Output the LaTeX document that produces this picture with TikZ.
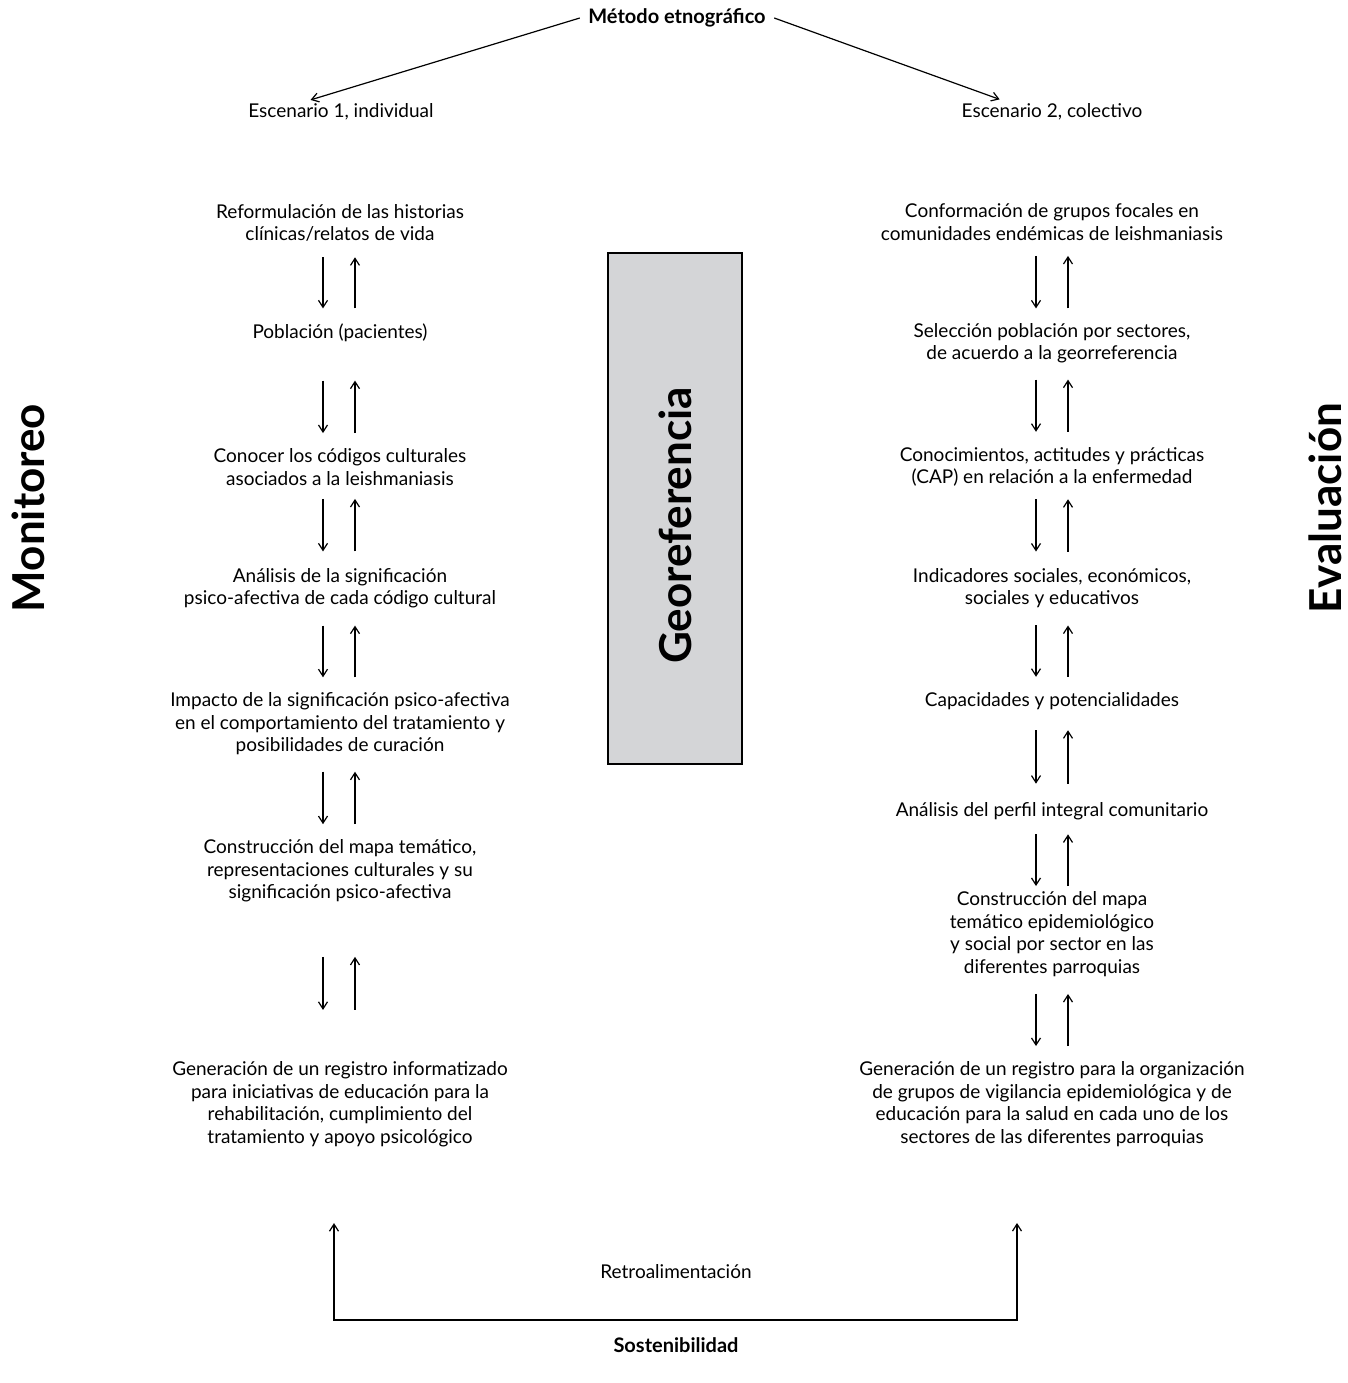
\documentclass[tikz,border=0pt]{standalone}
\usepackage{fontspec}
\setmainfont{Lato}
\usetikzlibrary{arrows.meta}

\definecolor{geogray}{HTML}{D4D5D7}

\begin{document}
\begin{tikzpicture}[x=0.5pt, y=-0.5pt, line width=0.6pt,
    >={Straight Barb[length=3.5pt, width=4.5pt]},
    item/.style = {align=center, inner sep=0pt, font=\fontsize{9.5}{11.25}\selectfont},
    head/.style = {inner sep=4pt, font=\fontsize{10}{12}\selectfont\bfseries},
    side/.style = {rotate=90, inner sep=0pt, font=\fontsize{22}{26}\selectfont\bfseries}]
    \useasboundingbox (0,0) rectangle (1348,1383);

    % cabecera
    \node[head] at (677,18) (M) {Método etnográfico};
    \node[item] at (341,112) (E1) {Escenario 1, individual};
    \node[item] at (1052,112) (E2) {Escenario 2, colectivo};
    \draw [->, shorten >=5.5pt] (M.west) -- ([xshift=-20.5pt]E1.north);
    \draw [->, shorten >=5.5pt] (M.east) -- ([xshift=-21pt]E2.north);

    % escenario individual
    \node[item] at (340,223) (L1) {Reformulación de las historias\\clínicas/relatos de vida};
    \node[item] at (340,333) (L2) {Población (pacientes)};
    \node[item] at (340,467) (L3) {Conocer los códigos culturales\\asociados a la leishmaniasis};
    \node[item] at (340,588) (L4) {Análisis de la significación\\psico-afectiva de cada código cultural};
    \node[item] at (340,724) (L5) {Impacto de la significación psico-afectiva\\en el comportamiento del tratamiento y\\posibilidades de curación};
    \node[item] at (340,871) (L6) {Construcción del mapa temático,\\representaciones culturales y su\\significación psico-afectiva};
    \node[item] at (340,1104) (L7) {Generación de un registro informatizado\\para iniciativas de educación para la\\rehabilitación, cumplimiento del\\tratamiento y apoyo psicológico};

    \draw [->, shorten <=7.5pt, shorten >=7.5pt] ([xshift=-8.5pt]L1.south) -- ([xshift=-8.5pt]L2.north);
    \draw [->, shorten <=7.5pt, shorten >=7.5pt] ([xshift=7.5pt]L2.north) -- ([xshift=7.5pt]L1.south);
    \draw [->, shorten <=19pt, shorten >=7.5pt] ([xshift=-8.5pt]L2.south) -- ([xshift=-8.5pt]L3.north);
    \draw [->, shorten <=7.5pt, shorten >=19pt] ([xshift=7.5pt]L3.north) -- ([xshift=7.5pt]L2.south);
    \draw [->, shorten <=6.5pt, shorten >=8pt] ([xshift=-8.5pt]L3.south) -- ([xshift=-8.5pt]L4.north);
    \draw [->, shorten <=8pt, shorten >=6.5pt] ([xshift=7.5pt]L4.north) -- ([xshift=7.5pt]L3.south);
    \draw [->, shorten <=8.5pt, shorten >=7.5pt] ([xshift=-8.5pt]L4.south) -- ([xshift=-8.5pt]L5.north);
    \draw [->, shorten <=7.5pt, shorten >=8.5pt] ([xshift=7.5pt]L5.north) -- ([xshift=7.5pt]L4.south);
    \draw [->, shorten <=8pt, shorten >=7.5pt] ([xshift=-8.5pt]L5.south) -- ([xshift=-8.5pt]L6.north);
    \draw [->, shorten <=7.5pt, shorten >=8pt] ([xshift=7.5pt]L6.north) -- ([xshift=7.5pt]L5.south);
    \draw [->, shorten <=27pt, shorten >=25.5pt] ([xshift=-8.5pt]L6.south) -- ([xshift=-8.5pt]L7.north);
    \draw [->, shorten <=25.5pt, shorten >=27pt] ([xshift=7.5pt]L7.north) -- ([xshift=7.5pt]L6.south);

    % escenario colectivo
    \node[item] at (1052,222) (R1) {Conformación de grupos focales en\\comunidades endémicas de leishmaniasis};
    \node[item] at (1052,343) (R2) {Selección población por sectores,\\de acuerdo a la georreferencia};
    \node[item] at (1052,467) (R3) {Conocimientos, actitudes y prácticas\\(CAP) en relación a la enfermedad};
    \node[item] at (1052,588) (R4) {Indicadores sociales, económicos,\\sociales y educativos};
    \node[item] at (1052,701) (R5) {Capacidades y potencialidades};
    \node[item] at (1052,811) (R6) {Análisis del perfil integral comunitario};
    \node[item] at (1052,934) (R7) {Construcción del mapa\\temático epidemiológico\\y social por sector en las\\diferentes parroquias};
    \node[item] at (1052,1104) (R8) {Generación de un registro para la organización\\de grupos de vigilancia epidemiológica y de\\educación para la salud en cada uno de los\\sectores de las diferentes parroquias};

    \draw [->, shorten <=7.5pt, shorten >=7pt] ([xshift=-8pt]R1.south) -- ([xshift=-8pt]R2.north);
    \draw [->, shorten <=7pt, shorten >=7.5pt] ([xshift=8pt]R2.north) -- ([xshift=8pt]R1.south);
    \draw [->, shorten <=8pt, shorten >=7.5pt] ([xshift=-8pt]R2.south) -- ([xshift=-8pt]R3.north);
    \draw [->, shorten <=7.5pt, shorten >=8pt] ([xshift=8pt]R3.north) -- ([xshift=8pt]R2.south);
    \draw [->, shorten <=6pt, shorten >=8pt] ([xshift=-8pt]R3.south) -- ([xshift=-8pt]R4.north);
    \draw [->, shorten <=8pt, shorten >=6pt] ([xshift=8pt]R4.north) -- ([xshift=8pt]R3.south);
    \draw [->, shorten <=8.5pt, shorten >=7.5pt] ([xshift=-8pt]R4.south) -- ([xshift=-8pt]R5.north);
    \draw [->, shorten <=7.5pt, shorten >=8.5pt] ([xshift=8pt]R5.north) -- ([xshift=8pt]R4.south);
    \draw [->, shorten <=10pt, shorten >=9pt] ([xshift=-8pt]R5.south) -- ([xshift=-8pt]R6.north);
    \draw [->, shorten <=9pt, shorten >=10pt] ([xshift=8pt]R6.north) -- ([xshift=8pt]R5.south);
    \draw [->, shorten <=7pt, shorten >=2.5pt] ([xshift=-8pt]R6.south) -- ([xshift=-8pt]R7.north);
    \draw [->, shorten <=2.5pt, shorten >=7pt] ([xshift=8pt]R7.north) -- ([xshift=8pt]R6.south);
    \draw [->, shorten <=8.5pt, shorten >=7.5pt] ([xshift=-8pt]R7.south) -- ([xshift=-8pt]R8.north);
    \draw [->, shorten <=7.5pt, shorten >=8.5pt] ([xshift=8pt]R8.north) -- ([xshift=8pt]R7.south);

    % georeferencia y ejes laterales
    \node[draw, fill=geogray, inner sep=0pt, minimum width=67pt, minimum height=255.5pt] at (675,508.5) (G) {};
    \node[side] at ([yshift=-8.5pt]G.center) (Gt) {Georeferencia};
    \node[side] at (28,508) (Mon) {Monitoreo};
    \node[side] at (1325,508) (Ev) {Evaluación};

    % retroalimentacion
    \coordinate (fb) at (676,1320);
    \draw [<->, shorten <=38pt, shorten >=38pt] ([xshift=-3pt]L7.south) |- (fb) -| ([xshift=-17.5pt]R8.south);
    \node[item] at (676,1272) (Ret) {Retroalimentación};
    \node[head] at (676,1345) (S) {Sostenibilidad};
\end{tikzpicture}
\end{document}
